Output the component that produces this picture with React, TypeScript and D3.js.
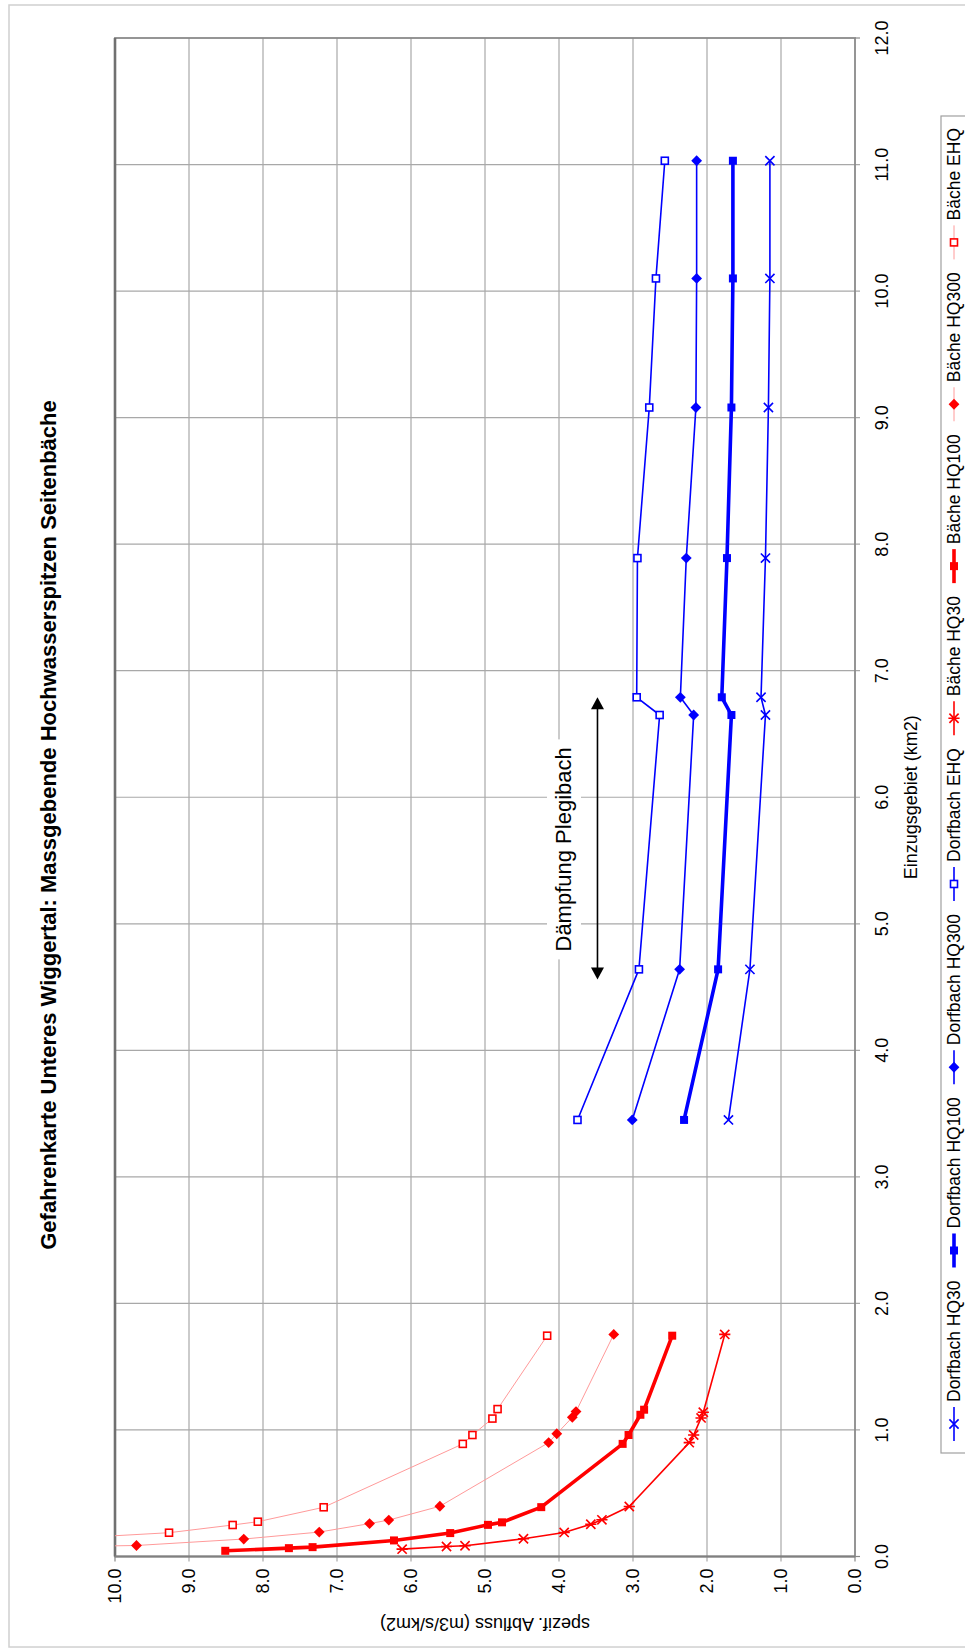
import React from 'react';
import * as d3 from 'd3';

// ---------- data ----------
const dorfbachKm = [3.45, 4.64, 6.65, 6.79, 7.89, 9.08, 10.1, 11.03];
const dorfbachHQ30 = [1.71, 1.42, 1.21, 1.27, 1.21, 1.17, 1.15, 1.15];
const dorfbachHQ100 = [2.31, 1.85, 1.67, 1.8, 1.73, 1.67, 1.65, 1.65];
const dorfbachHQ300 = [3.01, 2.37, 2.18, 2.36, 2.28, 2.15, 2.14, 2.14];
const dorfbachEHQ = [3.75, 2.92, 2.64, 2.95, 2.94, 2.78, 2.69, 2.57];

const baecheHQ30Km = [0.058, 0.079, 0.085, 0.14, 0.19, 0.255, 0.29, 0.395, 0.9, 0.96, 1.095, 1.14, 1.755];
const baecheHQ30 = [6.12, 5.52, 5.27, 4.48, 3.93, 3.57, 3.42, 3.05, 2.24, 2.18, 2.08, 2.05, 1.76];
const baecheHQ100Km = [0.045, 0.066, 0.074, 0.127, 0.185, 0.25, 0.27, 0.39, 0.89, 0.96, 1.12, 1.16, 1.745];
const baecheHQ100 = [8.51, 7.65, 7.33, 6.23, 5.47, 4.96, 4.77, 4.24, 3.14, 3.06, 2.9, 2.85, 2.47];
const baecheHQ300Km = [0.066, 0.087, 0.138, 0.193, 0.26, 0.288, 0.397, 0.9, 0.97, 1.1, 1.145, 1.755];
const baecheHQ300 = [12.0, 9.71, 8.26, 7.24, 6.56, 6.3, 5.61, 4.14, 4.03, 3.82, 3.77, 3.26];
const baecheEHQKm = [0.138, 0.188, 0.249, 0.275, 0.389, 0.89, 0.96, 1.09, 1.165, 1.745];
const baecheEHQ = [10.8, 9.27, 8.41, 8.07, 7.18, 5.3, 5.17, 4.9, 4.83, 4.16];

const kmTicks = [0, 1, 2, 3, 4, 5, 6, 7, 8, 9, 10, 11, 12];
const valueTicks = [0, 1, 2, 3, 4, 5, 6, 7, 8, 9, 10];

const TITLE = 'Gefahrenkarte Unteres Wiggertal: Massgebende Hochwasserspitzen Seitenbäche';
const KM_TITLE = 'Einzugsgebiet (km2)';
const VALUE_TITLE = 'spezif. Abfluss (m3/s/km2)';
const ANNOTATION = 'Dämpfung Plegibach';
const annotationRange = [4.56, 6.79];
const annotationValue = 3.48;

type Marker = 'x' | 'square' | 'diamond' | 'open' | 'star';
interface Series {
  name: string;
  km: number[];
  values: number[];
  color: string;
  lineColor: string;
  lineWidth: number;
  marker: Marker;
}

const BLUE = '#0000ff';
const RED = '#ff0000';
const PALE = '#ff9a9a';

const seriesList: Series[] = [
  { name: 'Dorfbach HQ30', km: dorfbachKm, values: dorfbachHQ30, color: BLUE, lineColor: BLUE, lineWidth: 1.6, marker: 'x' },
  { name: 'Dorfbach HQ100', km: dorfbachKm, values: dorfbachHQ100, color: BLUE, lineColor: BLUE, lineWidth: 3.6, marker: 'square' },
  { name: 'Dorfbach HQ300', km: dorfbachKm, values: dorfbachHQ300, color: BLUE, lineColor: BLUE, lineWidth: 1.6, marker: 'diamond' },
  { name: 'Dorfbach EHQ', km: dorfbachKm, values: dorfbachEHQ, color: BLUE, lineColor: BLUE, lineWidth: 1.6, marker: 'open' },
  { name: 'Bäche HQ30', km: baecheHQ30Km, values: baecheHQ30, color: RED, lineColor: RED, lineWidth: 1.6, marker: 'star' },
  { name: 'Bäche HQ100', km: baecheHQ100Km, values: baecheHQ100, color: RED, lineColor: RED, lineWidth: 3.6, marker: 'square' },
  { name: 'Bäche HQ300', km: baecheHQ300Km, values: baecheHQ300, color: RED, lineColor: PALE, lineWidth: 1, marker: 'diamond' },
  { name: 'Bäche EHQ', km: baecheEHQKm, values: baecheEHQ, color: RED, lineColor: PALE, lineWidth: 1, marker: 'open' },
];

const W = 965;
const H = 1651;
const P = { left: 115, right: 855, top: 38, bottom: 1556.5 };
const FONT = '"Liberation Sans", Arial, sans-serif';

function markerEl(m: Marker, cx: number, cy: number, color: string, key: string | number, scale = 1) {
  const s = 4 * scale;
  switch (m) {
    case 'square':
      return <rect key={key} x={cx - s} y={cy - s} width={2 * s} height={2 * s} fill={color} />;
    case 'open':
      return (
        <rect key={key} x={cx - 3.5 * scale} y={cy - 3.5 * scale} width={7 * scale} height={7 * scale}
          fill="#fff" stroke={color} strokeWidth={1.6} />
      );
    case 'diamond': {
      const d = 5.4 * scale;
      return <path key={key} d={`M${cx},${cy - d}L${cx + d},${cy}L${cx},${cy + d}L${cx - d},${cy}Z`} fill={color} />;
    }
    case 'x': {
      const d = 4.6 * scale;
      return (
        <path key={key} d={`M${cx - d},${cy - d}L${cx + d},${cy + d}M${cx - d},${cy + d}L${cx + d},${cy - d}`}
          stroke={color} strokeWidth={1.6} fill="none" />
      );
    }
    case 'star': {
      const d = 4.6 * scale;
      return (
        <path key={key}
          d={`M${cx - d},${cy - d}L${cx + d},${cy + d}M${cx - d},${cy + d}L${cx + d},${cy - d}M${cx - d - 1},${cy}L${cx + d + 1},${cy}`}
          stroke={color} strokeWidth={1.6} fill="none" />
      );
    }
  }
}

function measure(text: string, font: string): number {
  if (typeof document === 'undefined') return text.length * 9.5;
  const c = document.createElement('canvas');
  const ctx = c.getContext('2d');
  if (!ctx) return text.length * 9.5;
  ctx.font = font;
  return ctx.measureText(text).width;
}

export default function App() {
  const x = d3.scaleLinear().domain([0, 10]).range([P.right, P.left]);
  const y = d3.scaleLinear().domain([0, 12]).range([P.bottom, P.top]);
  const line = d3
    .line<[number, number]>()
    .x((d) => x(d[1]))
    .y((d) => y(d[0]));

  // legend layout (runs bottom -> top along the right edge)
  const legendFontSize = 17.5;
  const legendFont = `${legendFontSize}px "Liberation Sans"`;
  const lgTop = 116;
  const lgBottom = 1453;
  const lgX = 941;
  const symLen = 34;
  const symGap = 5;
  const pad = 12;
  const widths = seriesList.map((s) => measure(s.name, legendFont));
  const inner = widths.reduce((a, b) => a + b, 0) + seriesList.length * (symLen + symGap);
  const gap = (lgBottom - lgTop - 2 * pad - inner) / (seriesList.length - 1);
  let cursor = lgBottom - pad;
  const legendItems = seriesList.map((s, i) => {
    const symStart = cursor;
    const symCenter = symStart - symLen / 2;
    const textStart = symStart - symLen - symGap;
    cursor = textStart - widths[i] - gap;
    return { s, symStart, symCenter, textStart };
  });
  const legendCx = 954;

  const arrowX = x(annotationValue);
  const aTop = y(annotationRange[1]);
  const aBot = y(annotationRange[0]);

  return (
    <svg width={W} height={H} style={{ position: 'absolute', left: 0, top: 0, background: '#fff' }}
      fontFamily={FONT}>
      <defs>
        <clipPath id="plotClip">
          <rect x={P.left} y={P.top} width={P.right - P.left} height={P.bottom - P.top} />
        </clipPath>
      </defs>
      <rect x={0} y={0} width={W} height={H} fill="#fff" />
      {/* outer chart border */}
      <rect x={9} y={5} width={1000} height={1642} fill="none" stroke="#d0d0d0" strokeWidth={1.5} />

      {/* grid */}
      {valueTicks.slice(1, -1).map((v) => (
        <line key={'gv' + v} x1={x(v)} x2={x(v)} y1={P.top} y2={P.bottom + 5} stroke="#a8a8a8" strokeWidth={1.2} />
      ))}
      {kmTicks.slice(1, -1).map((k) => (
        <line key={'gk' + k} x1={P.left} x2={P.right + 5} y1={y(k)} y2={y(k)} stroke="#a8a8a8" strokeWidth={1.2} />
      ))}
      <line x1={P.right} x2={P.right + 5} y1={P.top} y2={P.top} stroke="#888" strokeWidth={1.2} />
      <line x1={P.right} x2={P.right + 5} y1={P.bottom} y2={P.bottom} stroke="#888" strokeWidth={1.2} />
      <line x1={P.left} x2={P.left} y1={P.bottom} y2={P.bottom + 5} stroke="#888" strokeWidth={1.2} />
      <line x1={P.right} x2={P.right} y1={P.bottom} y2={P.bottom + 5} stroke="#888" strokeWidth={1.2} />

      {/* plot border */}
      <rect x={P.left} y={P.top} width={P.right - P.left} height={P.bottom - P.top} fill="none" stroke="#8a8a8a" strokeWidth={1.8} />
      <line x1={P.left} x2={P.left} y1={P.top} y2={P.bottom} stroke="#707070" strokeWidth={2.6} />
      <line x1={P.left} x2={P.right} y1={P.bottom} y2={P.bottom} stroke="#808080" strokeWidth={2} />

      {/* annotation text box (white background hides gridlines) */}
      <rect x={547} y={(aTop + aBot) / 2 + 11 - 110} width={34} height={220} fill="#fff" />
      <text transform={`translate(563,${(aTop + aBot) / 2 + 11}) rotate(-90)`} textAnchor="middle"
        dominantBaseline="central" fontSize={22} fill="#000">{ANNOTATION}</text>

      {/* series */}
      <g clipPath="url(#plotClip)">
        {seriesList.map((s) => (
          <path key={'l' + s.name}
            d={line(s.km.map((k, i) => [k, s.values[i]] as [number, number])) || ''}
            fill="none" stroke={s.lineColor} strokeWidth={s.lineWidth} strokeLinejoin="round" />
        ))}
        {seriesList.map((s) =>
          s.km.map((k, i) => markerEl(s.marker, x(s.values[i]), y(k), s.color, s.name + i))
        )}
      </g>

      {/* annotation arrow */}
      <line x1={arrowX} x2={arrowX} y1={aTop + 11} y2={aBot - 11} stroke="#000" strokeWidth={1.6} />
      <path d={`M${arrowX},${aTop}L${arrowX - 6.5},${aTop + 12}L${arrowX + 6.5},${aTop + 12}Z`} fill="#000" />
      <path d={`M${arrowX},${aBot}L${arrowX - 6.5},${aBot - 12}L${arrowX + 6.5},${aBot - 12}Z`} fill="#000" />

      {/* km axis labels (right side) */}
      {kmTicks.map((k) => (
        <text key={'tk' + k} transform={`translate(882,${y(k)}) rotate(-90)`} textAnchor="middle"
          dominantBaseline="central" fontSize={18} fill="#000">{d3.format('.1f')(k)}</text>
      ))}
      <text transform={`translate(911,${(P.top + P.bottom) / 2}) rotate(-90)`} textAnchor="middle"
        dominantBaseline="central" fontSize={18} fill="#000">{KM_TITLE}</text>

      {/* value axis labels (bottom) */}
      {valueTicks.map((v) => (
        <text key={'tv' + v} transform={`translate(${x(v)},${P.bottom + 12}) rotate(-90)`} textAnchor="end"
          dominantBaseline="central" fontSize={18} fill="#000">{d3.format('.1f')(v)}</text>
      ))}
      <text transform={`translate(${(P.left + P.right) / 2},1624) rotate(180)`} textAnchor="middle"
        dominantBaseline="central" fontSize={18} fill="#000">{VALUE_TITLE}</text>

      {/* title */}
      <text transform={`translate(48,825) rotate(-90)`} textAnchor="middle" dominantBaseline="central"
        fontSize={22} fontWeight="bold" fill="#000">{TITLE}</text>

      {/* legend */}
      <rect x={lgX} y={lgTop} width={60} height={lgBottom - lgTop} fill="#fff" stroke="#a0a0a0" strokeWidth={1.2} />
      {legendItems.map(({ s, symStart, symCenter, textStart }) => (
        <g key={'lg' + s.name}>
          <line x1={legendCx} x2={legendCx} y1={symStart} y2={symStart - symLen}
            stroke={s.lineColor} strokeWidth={s.lineWidth} />
          {markerEl(s.marker, legendCx, symCenter, s.color, 'lm' + s.name)}
          <text transform={`translate(${legendCx},${textStart}) rotate(-90)`} textAnchor="start"
            dominantBaseline="central" fontSize={legendFontSize} fill="#000">{s.name}</text>
        </g>
      ))}
    </svg>
  );
}
